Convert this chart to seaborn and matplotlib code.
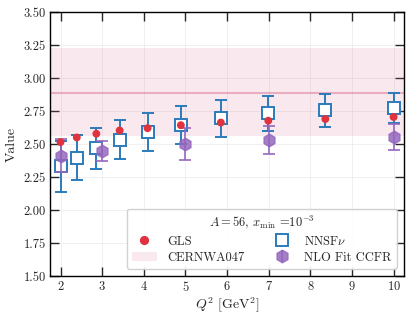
import numpy as np
import pandas as pd
import matplotlib
matplotlib.use('Agg')
import matplotlib.pyplot as plt
from matplotlib.lines import Line2D
from matplotlib.patches import Patch
import seaborn as sns

# Q2 points (GeV^2)
q2 = [2.0, 2.39, 2.86, 3.42, 4.09, 4.89, 5.85, 6.99, 8.36, 10.0]

# GLS sum rule
gls = [2.515, 2.55, 2.578, 2.603, 2.62, 2.643, 2.663, 2.677, 2.69, 2.705]

# NNSFnu prediction with uncertainty
nnsf = [2.33, 2.395, 2.467, 2.533, 2.592, 2.647, 2.694, 2.733, 2.757, 2.772]
nnsf_err = [0.195, 0.17, 0.158, 0.149, 0.145, 0.143, 0.139, 0.132, 0.126, 0.115]

# NLO fit to CCFR
ccfr_q2 = [2.0, 3.0, 5.0, 7.0, 10.0]
ccfr = [2.41, 2.448, 2.50, 2.53, 2.555]
ccfr_err = [0.125, 0.078, 0.122, 0.104, 0.1]

# CERN WA047 band
wa47_central = 2.89
wa47_low = 2.562
wa47_high = 3.225

df = pd.DataFrame({'q2': q2, 'gls': gls})

sns.set_style('ticks')
plt.rcParams['font.family'] = 'serif'
plt.rcParams['font.serif'] = ['cmr10', 'DejaVu Serif']
plt.rcParams['mathtext.fontset'] = 'cm'
plt.rcParams['axes.formatter.use_mathtext'] = True
plt.rcParams['axes.unicode_minus'] = False

c_red = '#e0323f'
c_blue = '#2b7bba'
c_purple = '#9467bd'
c_band = '#db7093'

fig, ax = plt.subplots(figsize=(4.11, 3.18), dpi=100)
fig.subplots_adjust(left=0.122, right=0.983, bottom=0.132, top=0.962)

ax.grid(True, color='#dddddd', lw=0.5, alpha=0.6, zorder=0)

# band
ax.axhspan(wa47_low, wa47_high, color=c_band, alpha=0.15, lw=0, zorder=1)
ax.axhline(wa47_central, color=c_band, alpha=0.5, lw=1.5, zorder=1)

# NNSFnu
ax.errorbar(q2, nnsf, yerr=nnsf_err, fmt='s', ms=8.5, mfc='white', mec=c_blue,
            mew=1.4, ecolor=c_blue, elinewidth=1.4, capsize=4, capthick=1.4,
            color=c_blue, zorder=3)

# CCFR
ax.errorbar(ccfr_q2, ccfr, yerr=ccfr_err, fmt='h', ms=9, color=c_purple,
            ecolor=c_purple, elinewidth=1.4, capsize=4, capthick=1.4,
            alpha=0.85, zorder=4)

# GLS
sns.scatterplot(data=df, x='q2', y='gls', ax=ax, color=c_red, s=32,
                edgecolor='none', zorder=5, legend=False)

ax.set_xlim(1.75, 10.25)
ax.set_ylim(1.5, 3.5)
ax.set_xticks(range(2, 11))
ax.set_yticks(np.arange(1.5, 3.51, 0.25))
ax.yaxis.set_major_formatter(matplotlib.ticker.FormatStrFormatter('%.2f'))
ax.tick_params(direction='in', top=True, right=True, length=6.5, width=1,
               labelsize=9, pad=3)
for s in ax.spines.values():
    s.set_linewidth(1)
    s.set_color('black')

ax.set_xlabel(r'$Q^2$ [GeV$^2$]', fontsize=10, labelpad=1)
ax.set_ylabel('Value', fontsize=10)

ccfr_handle = ax.errorbar([], [], yerr=[], fmt='h', ms=9, color=c_purple,
                          capsize=4, elinewidth=1.4, capthick=1.4, alpha=0.85)
handles = [
    Line2D([], [], ls='none', marker='o', ms=5.6, color=c_red),
    Patch(facecolor=c_band, alpha=0.15, lw=0),
    Line2D([], [], ls='none', marker='s', ms=8.5, mfc='white', mec=c_blue, mew=1.4),
    ccfr_handle,
]
labels = ['GLS', 'CERNWA047', r'NNSF$\nu$', 'NLO Fit CCFR']
leg = ax.legend(handles, labels, ncol=2, loc='lower right', fontsize=9,
                title=r'$A=56$, $x_{\rm min}$ =$10^{-3}$', title_fontsize=9,
                frameon=True, fancybox=True, framealpha=0.9, edgecolor='#cccccc',
                borderaxespad=0.6, columnspacing=2.0, handletextpad=0.8,
                labelspacing=0.3)

fig.savefig('out.png', dpi=100)
